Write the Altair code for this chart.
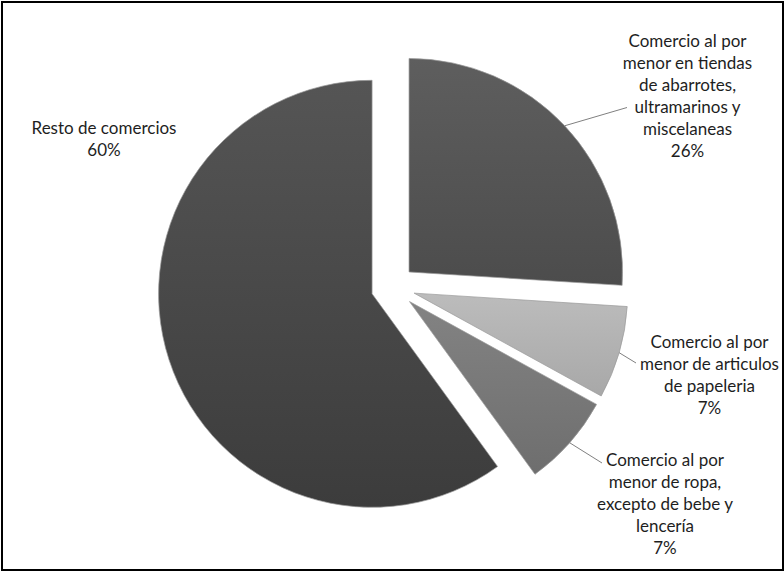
import altair as alt
import pandas as pd

# ---- data ----
categories = [
    "Comercio al por menor en tiendas de abarrotes, ultramarinos y miscelaneas",
    "Comercio al por menor de articulos de papeleria",
    "Comercio al por menor de ropa, excepto de bebe y lencería",
    "Resto de comercios",
]
values = [26, 7, 7, 60]
label_lines = [
    ["Comercio al por", "menor en tiendas", "de abarrotes,", "ultramarinos y", "miscelaneas"],
    ["Comercio al por", "menor de articulos", "de papeleria"],
    ["Comercio al por", "menor de ropa,", "excepto de bebe y", "lencería"],
    ["Resto de comercios"],
]

# ---- layout / style (view coordinates, px) ----
CX, CY = 391.0, 285.0      # pie centre
R = 213.5                  # pie radius
EXPLODE = 22.0             # explosion distance
LABEL_X = [685.5, 707.5, 663.0, 102.0]   # centre of label block
LABEL_Y = [40.0, 341.0, 459.0, 126.5]    # first line of label block
LEADER_X = [625.0, 634.0, 600.0, None]
LEADER_Y = [105.5, 361.0, 461.0, None]
GRADIENTS = [
    ("#5e5e5e", "#4c4c4c"),
    ("#bcbcbc", "#a8a8a8"),
    ("#838383", "#6e6e6e"),
    ("#555555", "#3c3c3c"),
]

df = pd.DataFrame({
    "category": categories,
    "value": values,
    "order": list(range(len(values))),
    "label": ["\n".join(l) for l in label_lines],
    "lx": LABEL_X,
    "ly": LABEL_Y,
    "ex": LEADER_X,
    "ey": LEADER_Y,
})

base = (
    alt.Chart(df)
    .transform_joinaggregate(total="sum(value)")
    .transform_window(cum="sum(value)", sort=[alt.SortField("order")], frame=[None, 0])
    .transform_calculate(
        a0="(datum.cum - datum.value) / datum.total * 2 * PI",
        a1="datum.cum / datum.total * 2 * PI",
    )
    .transform_calculate(am="(datum.a0 + datum.a1) / 2")
    .transform_calculate(
        cx=f"{CX} + {EXPLODE} * sin(datum.am)",
        cy=f"{CY} - {EXPLODE} * cos(datum.am)",
    )
    .transform_calculate(
        sx=f"datum.cx + {R} * sin(datum.am)",
        sy=f"datum.cy - {R} * cos(datum.am)",
        txt="datum.label + '\\n' + format(datum.value / datum.total, '.0%')",
    )
)

layers = []
for i, (c0, c1) in enumerate(GRADIENTS):
    grad = alt.Gradient(
        gradient="linear",
        stops=[alt.GradientStop(color=c0, offset=0), alt.GradientStop(color=c1, offset=1)],
        x1=0, x2=0, y1=0, y2=1,
    )
    layers.append(
        base.transform_filter(f"datum.order == {i}")
        .mark_arc(radius=R, fill=grad, stroke="#9a9a9a", strokeWidth=1, strokeOpacity=0.7)
        .encode(
            x=alt.X("cx:Q", scale=None, axis=None),
            y=alt.Y("cy:Q", scale=None, axis=None),
            theta=alt.Theta("a0:Q", scale=None),
            theta2=alt.Theta2("a1:Q"),
        )
    )

leaders = (
    base.transform_filter("isValid(datum.ex)")
    .mark_rule(color="#808080", strokeWidth=1)
    .encode(
        x=alt.X("sx:Q", scale=None, axis=None),
        y=alt.Y("sy:Q", scale=None, axis=None),
        x2="ex:Q",
        y2="ey:Q",
    )
)

labels = base.mark_text(
    font="Lato", fontSize=17, lineHeight=22, lineBreak="\n",
    align="center", baseline="middle", color="#1e1e1e",
).encode(
    x=alt.X("lx:Q", scale=None, axis=None),
    y=alt.Y("ly:Q", scale=None, axis=None),
    text="txt:N",
)

chart = (
    alt.layer(*layers, leaders, labels)
    .properties(
        width=781, height=568,
        padding={"left": 2, "top": 2, "right": 1, "bottom": 2},
        autosize="none",
        background="white",
    )
    .configure_view(stroke="#000000", strokeWidth=2)
)

chart.save("out.html", embed_options={"renderer": "svg", "actions": False})
